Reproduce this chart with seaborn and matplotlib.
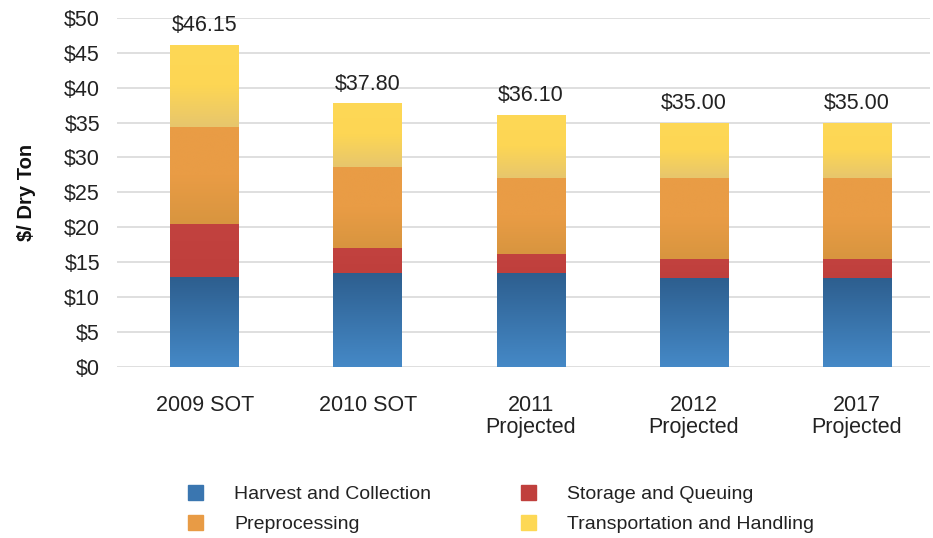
import numpy as np
import pandas as pd
import matplotlib
matplotlib.use("Agg")
import matplotlib.pyplot as plt
from matplotlib.colors import LinearSegmentedColormap
from matplotlib.patches import Patch
import seaborn as sns

# data ($ / dry ton)
categories = ["2009 SOT", "2010 SOT", "2011\nProjected", "2012\nProjected", "2017\nProjected"]
harvest = [12.85, 13.50, 13.50, 12.80, 12.80]
storage = [7.65, 3.60, 2.70, 2.60, 2.60]
preprocessing = [13.85, 11.50, 10.80, 11.60, 11.60]
transport = [11.80, 9.20, 9.10, 8.00, 8.00]
totals = ["$46.15", "$37.80", "$36.10", "$35.00", "$35.00"]

layers = [
    ("Harvest and Collection", harvest, "#3a76b0", ["#4589c7", "#2d5e8e"]),
    ("Storage and Queuing", storage, "#c0403d", ["#bf3f3c", "#c2423f"]),
    ("Preprocessing", preprocessing, "#e89b45", ["#d8953f", "#e99c45", "#e99c45"]),
    ("Transportation and Handling", transport, "#fdd855", ["#e7c66d", "#fdd654", "#fed856"]),
]

sns.set_theme(style="white")
plt.rcParams["font.family"] = ["Liberation Sans", "DejaVu Sans"]

fig = plt.figure(figsize=(9.33, 5.38), dpi=100)
ax = fig.add_axes([0.125, 0.318, 0.872, 0.649])

bottom = np.zeros(len(categories))
for name, vals, color, grad in layers:
    df = pd.DataFrame({"cat": categories, "val": vals})
    sns.barplot(data=df, x="cat", y="val", color=color, bottom=bottom.copy(),
                width=0.42, saturation=1, linewidth=0, ax=ax, zorder=3)
    bottom += np.array(vals)

# vertical gradient fill clipped to each bar
ramp = np.linspace(0, 1, 256).reshape(-1, 1)
for (name, vals, color, grad), cont in zip(layers, ax.containers):
    cmap = LinearSegmentedColormap.from_list(name, grad)
    for patch in cont.patches:
        x0, y0 = patch.get_x(), patch.get_y()
        w, h = patch.get_width(), patch.get_height()
        im = ax.imshow(ramp, extent=[x0, x0 + w, y0, y0 + h], origin="lower",
                       aspect="auto", cmap=cmap, zorder=3.5, interpolation="bilinear")
        im.set_clip_path(patch)

for i, lab in enumerate(totals):
    ax.annotate(lab, (i, bottom[i]), xytext=(0, 6), textcoords="offset points",
                ha="center", va="bottom", fontsize=15.5, color="#222222")

ax.set_xlim(-0.54, 4.45)
ax.set_ylim(0, 50)
ax.set_yticks(range(0, 51, 5))
ax.set_yticklabels([f"${v}" for v in range(0, 51, 5)], fontsize=15.5, color="#222222")
ax.set_xticks(range(len(categories)))
ax.set_xticklabels(categories, fontsize=15.5, color="#222222", linespacing=1.1)
ax.tick_params(axis="y", length=0, pad=12)
ax.tick_params(axis="x", length=0, pad=20)
ax.set_xlabel("")
ax.set_ylabel("$/ Dry Ton", fontsize=14.5, fontweight="bold", color="#111111", labelpad=20)
ax.grid(axis="y", color="#d9d9d9", linewidth=1.2, zorder=0)
ax.set_axisbelow(True)
sns.despine(ax=ax, left=True, top=True, right=True, bottom=True)

handles = [Patch(color=layers[0][2], label=layers[0][0]),
           Patch(color=layers[2][2], label=layers[2][0]),
           Patch(color=layers[1][2], label=layers[1][0]),
           Patch(color=layers[3][2], label=layers[3][0])]
fig.legend(handles=handles, ncol=2, loc="center", bbox_to_anchor=(0.537, 0.054),
           frameon=False, fontsize=14, handlelength=0.8, handleheight=0.8,
           handletextpad=1.6, columnspacing=4.6, labelspacing=0.6, labelcolor="#222222")

fig.savefig("out.png", dpi=100)
